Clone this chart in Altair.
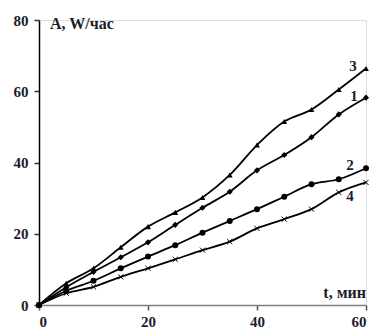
import altair as alt
import pandas as pd

t = [0, 5, 10, 15, 20, 25, 30, 35, 40, 45, 50, 55, 60]
s1 = [0, 5.0, 9.3, 13.4, 17.6, 22.5, 27.3, 31.8, 37.8, 42.1, 47.1, 53.5, 58.2]
s2 = [0, 4.0, 6.8, 10.3, 13.6, 16.8, 20.3, 23.6, 26.9, 30.4, 33.9, 35.3, 38.4]
s3 = [0, 6.1, 10.3, 16.2, 22.0, 26.0, 30.2, 36.5, 44.9, 51.5, 54.9, 60.5, 66.4]
s4 = [0, 3.3, 5.1, 7.9, 10.3, 12.8, 15.4, 17.8, 21.5, 24.1, 26.9, 31.6, 34.4]
series_names = ["1", "2", "3", "4"]
x_ticks = [0, 20, 40, 60]
y_ticks = [0, 20, 40, 60, 80]

rows = []
for name, vals in zip(series_names, [s1, s2, s3, s4]):
    for ti, v in zip(t, vals):
        rows.append({"t": ti, "A": v, "s": name})
df = pd.DataFrame(rows)

FONT = "Liberation Serif"
TXT = "#1c1c2c"

x = alt.X("t:Q", scale=alt.Scale(domain=[0, 60], nice=False),
          axis=alt.Axis(values=x_ticks, title=None, grid=False, domainColor="#808080",
                        domainWidth=1.6, tickColor="#555", tickSize=5, tickWidth=1.5,
                        labelFont=FONT, labelFontWeight="bold", labelFontSize=15,
                        labelColor=TXT, labelPadding=4))
y = alt.Y("A:Q", scale=alt.Scale(domain=[0, 80], nice=False),
          axis=alt.Axis(values=y_ticks, title=None, grid=False, domainColor="#000",
                        domainWidth=1.5, tickColor="#333", tickSize=5, tickWidth=1.5,
                        labelFont=FONT, labelFontWeight="bold", labelFontSize=15,
                        labelColor=TXT, labelPadding=6))

base = alt.Chart(df)
lines = base.mark_line(interpolate="catmull-rom", color="black", strokeWidth=1.8).encode(
    x=x, y=y, detail="s:N")

filled = base.transform_filter(alt.datum.s != "4").mark_point(filled=True, color="black", opacity=1).encode(
    x="t:Q", y="A:Q",
    shape=alt.Shape("s:N", scale=alt.Scale(domain=["1", "2", "3"],
                                           range=["diamond", "circle", "triangle-up"]), legend=None),
    size=alt.Size("s:N", scale=alt.Scale(domain=["1", "2", "3"], range=[38, 34, 55]), legend=None))

crosses = base.transform_filter(alt.datum.s == "4").mark_point(
    shape="M-1,-1L1,1M-1,1L1,-1", filled=False, color="black", strokeWidth=1, size=26, opacity=1
).encode(x="t:Q", y="A:Q")

last = df[df.t == 60]
offsets = {"3": (-13, -2), "1": (-12, -2), "2": (-16, -3), "4": (-16, 14)}
labels = []
for name in series_names:
    dx, dy = offsets[name]
    labels.append(alt.Chart(last[last.s == name]).mark_text(
        font=FONT, fontWeight="bold", fontSize=15, color=TXT, dx=dx, dy=dy, align="center",
        baseline="middle").encode(x="t:Q", y="A:Q", text="s:N"))

ytitle = alt.Chart(pd.DataFrame({"txt": ["A, W/час"]})).mark_text(
    font=FONT, fontWeight="bold", fontSize=16, color=TXT, align="left", baseline="top"
).encode(x=alt.value(11), y=alt.value(-4), text="txt:N")
xtitle = alt.Chart(pd.DataFrame({"txt": ["t, мин"]})).mark_text(
    font=FONT, fontWeight="bold", fontSize=16, color=TXT, align="right", baseline="bottom"
).encode(x=alt.value(327), y=alt.value(281), text="txt:N")

chart = alt.layer(lines, filled, crosses, *labels, ytitle, xtitle).properties(
    width=327, height=285,
    autosize=alt.AutoSizeParams(type="none"),
    padding={"left": 39, "top": 20, "right": 8, "bottom": 24},
).configure_view(stroke=None).configure(background="white")

chart.save("out.html", embed_options={"renderer": "svg", "actions": False})
